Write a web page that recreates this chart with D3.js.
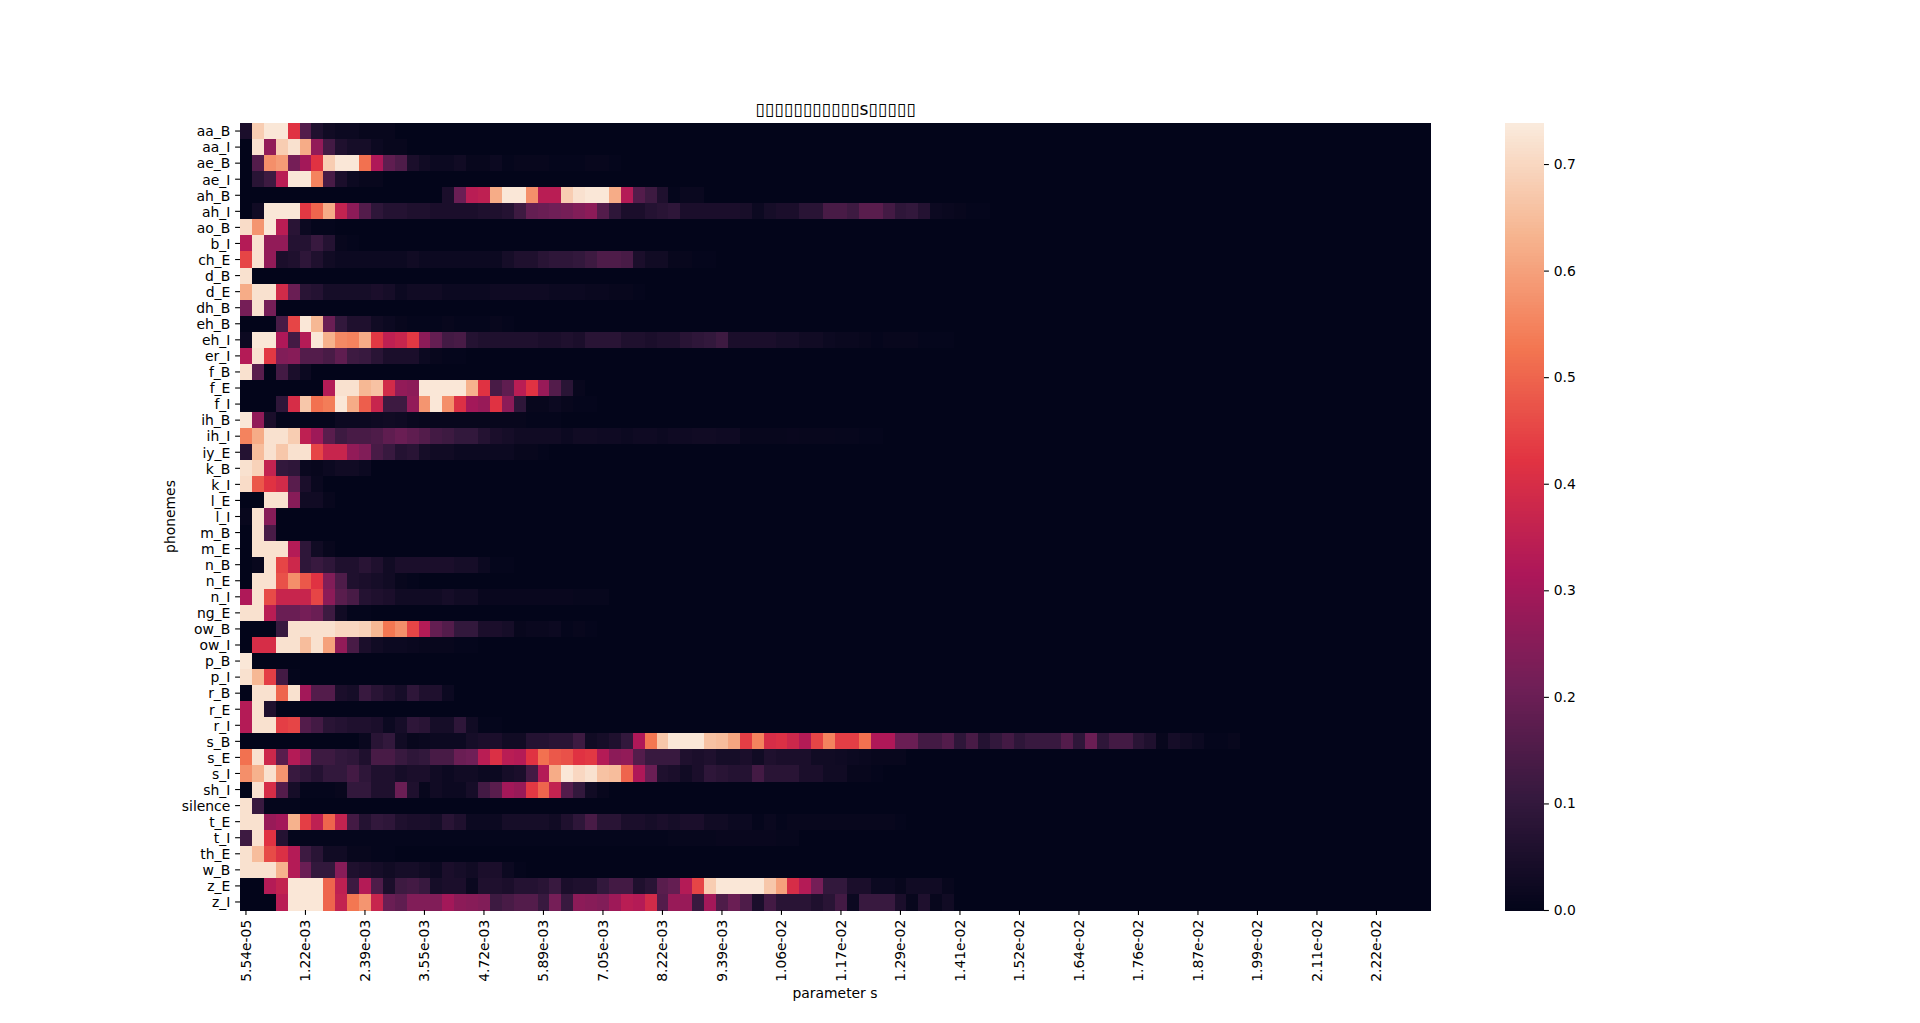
<!DOCTYPE html>
<html><head><meta charset="utf-8">
<script src="https://cdn.jsdelivr.net/npm/d3@7/dist/d3.min.js"></script>
<style>html,body{margin:0;padding:0;background:#fff;overflow:hidden}svg{display:block}text{font-family:"DejaVu Sans",sans-serif;fill:#000}</style>
</head><body><svg id="c" width="1920" height="1023"></svg>
<script>
const titleText = "▯▯▯▯▯▯▯▯▯▯▯s▯▯▯▯▯";
const xTitle = "parameter s";
const yTitle = "phonemes";
const phonemes = ["aa_B","aa_I","ae_B","ae_I","ah_B","ah_I","ao_B","b_I","ch_E","d_B","d_E","dh_B","eh_B","eh_I","er_I","f_B","f_E","f_I","ih_B","ih_I","iy_E","k_B","k_I","l_E","l_I","m_B","m_E","n_B","n_E","n_I","ng_E","ow_B","ow_I","p_B","p_I","r_B","r_E","r_I","s_B","s_E","s_I","sh_I","silence","t_E","t_I","th_E","w_B","z_E","z_I"];
const xTickLabels = ["5.54e-05","1.22e-03","2.39e-03","3.55e-03","4.72e-03","5.89e-03","7.05e-03","8.22e-03","9.39e-03","1.06e-02","1.17e-02","1.29e-02","1.41e-02","1.52e-02","1.64e-02","1.76e-02","1.87e-02","1.99e-02","2.11e-02","2.22e-02"];
const cbTicks = [0,0.1,0.2,0.3,0.4,0.5,0.6,0.7];
const vmax = 0.7385;
const columnCount = 100;
const rocketStops = ["#03051a","#35193e","#701f57","#ad1759","#e13342","#f37651","#f6b48f","#faebdd"];
// each row lists its cells from the left; cells past the end of a row read as 0
const rows = [
/*aa_B*/[.05,.68,.73,.73,.42,.16,.06,.03,.02,.02,.01,.01,.01],
/*aa_I*/[0,.72,.27,.68,.72,.62,.27,.13,.06,.04,.04,.02,.01,.01],
/*ae_B*/[0,.16,.57,.59,.22,.3,.42,.68,.73,.73,.52,.32,.18,.15,.05,.03,.02,.02,.03,.01,.01,.02,.005,.01,.01,.01,.005,.005,.005,.01,.01,.005],
/*ae_I*/[0,.08,.12,.34,.73,.73,.55,.14,.05,.02,.01,.01],
/*ah_B*/[0,0,0,0,0,0,0,0,0,0,0,0,0,0,0,0,0,.05,.2,.34,.35,.62,.73,.73,.57,.34,.34,.68,.72,.73,.73,.62,.33,.16,.12,.06,.005,.015,.015],
/*ah_I*/[0,.03,.73,.73,.73,.43,.5,.62,.36,.26,.16,.09,.07,.07,.06,.06,.05,.05,.05,.05,.06,.06,.07,.12,.19,.2,.21,.22,.24,.26,.16,.09,.05,.05,.07,.08,.09,.05,.05,.05,.05,.05,.045,.02,.04,.05,.05,.08,.08,.14,.14,.12,.17,.17,.13,.09,.1,.07,.02,.015,.01,.005,.005],
/*ao_B*/[.71,.58,.73,.34,.08,.02,.005,.005],
/*b_I*/[.33,.72,.27,.27,.07,.07,.11,.07,.01,.005],
/*ch_E*/[.45,.72,.27,.05,.06,.09,.06,.03,.02,.02,.02,.02,.02,.02,.03,.02,.02,.02,.02,.02,.02,.02,.04,.06,.06,.08,.09,.09,.1,.12,.15,.15,.14,.05,.03,.03,.01,.01,.005,.005],
/*d_B*/[.72],
/*d_E*/[.62,.72,.72,.39,.2,.08,.07,.04,.04,.04,.04,.05,.04,.02,.03,.03,.03,.02,.02,.02,.02,.025,.025,.025,.025,.025,.02,.02,.02,.015,.015,.01,.01,.005],
/*dh_B*/[.22,.72,.22],
/*eh_B*/[0,0,0,.14,.45,.73,.64,.2,.1,.06,.06,.03,.02,.01,.005,.005,.005,.01,.005,.005,.005,.01,.005],
/*eh_I*/[.02,.73,.73,.32,.13,.33,.73,.63,.56,.55,.62,.43,.35,.37,.43,.26,.19,.13,.14,.07,.06,.06,.06,.06,.06,.05,.05,.06,.05,.08,.08,.08,.06,.06,.05,.06,.06,.08,.09,.1,.12,.05,.05,.05,.05,.04,.04,.03,.03,.02,.015,.015,.01,.005,.01,.01,.01,.005,.005,.005],
/*er_I*/[.33,.72,.43,.24,.25,.16,.16,.14,.18,.12,.11,.08,.05,.05,.05,.02,.01,.005,.005],
/*f_B*/[.72,.17,0,.13,.05,.02],
/*f_E*/[0,0,0,0,0,0,0,.33,.72,.72,.64,.66,.39,.27,.26,.73,.73,.73,.73,.63,.42,.14,.18,.34,.42,.28,.16,.08,.01],
/*f_I*/[0,0,0,.09,.4,.67,.52,.54,.73,.62,.49,.37,.12,.12,.27,.58,.73,.57,.41,.3,.28,.42,.26,.09,.01,.01,.02,.01,.005,.005],
/*ih_B*/[.73,.27,.05,.005,.005,.005,.005,.005,.02,.02,.02,.025,.03,.025,.015,.01,.01,.01,.01,.01,.01,.01,.01,.01,.005,.005,.005],
/*ih_I*/[.55,.62,.72,.72,.68,.35,.29,.17,.12,.14,.14,.15,.18,.2,.18,.16,.13,.12,.1,.1,.07,.05,.04,.03,.03,.03,.03,.02,.03,.03,.025,.025,.02,.025,.025,.02,.025,.025,.03,.03,.025,.025,.01,.01,.01,.01,.012,.01,.01,.01,.008,.008,.005,.005],
/*iy_E*/[.07,.65,.72,.67,.72,.72,.45,.37,.37,.27,.24,.14,.11,.07,.08,.04,.03,.03,.02,.02,.02,.02,.02,.01,.01,.005],
/*k_B*/[.72,.69,.36,.1,.09,.015,.01,.02,.03,.03,.02],
/*k_I*/[.71,.48,.42,.39,.17,.05,.015],
/*l_E*/[0,0,.72,.72,.25,.03,.03,.01],
/*l_I*/[.01,.72,.25],
/*m_B*/[0,.72,.14],
/*m_E*/[0,.72,.72,.72,.33,.09,.03,.01],
/*n_B*/[0,.01,.72,.45,.38,.09,.11,.09,.06,.06,.08,.06,.03,.05,.05,.05,.05,.05,.04,.04,.02,.005,.005],
/*n_E*/[0,.72,.72,.47,.57,.48,.42,.24,.15,.06,.05,.04,.03,.01,.005],
/*n_I*/[.32,.72,.46,.37,.37,.37,.45,.26,.17,.14,.07,.06,.05,.03,.03,.03,.03,.04,.03,.03,.012,.012,.012,.012,.012,.012,.012,.012,.008,.008,.008],
/*ng_E*/[.72,.72,.34,.2,.2,.22,.2,.12,.03,.005,.005],
/*ow_B*/[0,0,0,.11,.72,.72,.72,.72,.7,.7,.69,.64,.53,.57,.45,.33,.19,.16,.1,.1,.05,.05,.04,.01,.015,.015,.02,.005,.01,.005],
/*ow_I*/[0,.4,.4,.72,.72,.65,.72,.6,.27,.14,.05,.03,.02,.02,.015,.01,.01,.01,.005,.005],
/*p_B*/[.73],
/*p_I*/[.72,.64,.44,.13,.005],
/*r_B*/[0,.72,.72,.5,.72,.3,.16,.16,.05,.04,.11,.08,.06,.04,.09,.06,.06,.02],
/*r_E*/[.33,.72,.06],
/*r_I*/[.33,.72,.72,.44,.45,.16,.13,.08,.07,.06,.06,.05,.02,.04,.09,.08,.04,.04,.09,.03,.005,.005],
/*s_B*/[0,0,0,0,0,0,0,0,0,0,.015,.08,.1,.03,.01,.015,.02,.02,.02,.04,.05,.05,.03,.03,.07,.07,.08,.08,.12,.03,.04,.06,.1,.32,.53,.67,.73,.73,.73,.66,.65,.61,.44,.55,.4,.41,.38,.33,.45,.55,.44,.44,.52,.32,.32,.2,.2,.13,.13,.16,.09,.14,.07,.1,.13,.09,.11,.11,.11,.16,.09,.2,.09,.13,.13,.08,.06,.01,.04,.03,.02,.005,.005,.01],
/*s_E*/[.52,.72,.38,.17,.33,.27,.12,.12,.1,.09,.06,.14,.14,.11,.09,.1,.14,.14,.2,.21,.34,.41,.34,.33,.42,.52,.48,.47,.42,.43,.33,.26,.27,.16,.11,.11,.11,.06,.05,.06,.04,.04,.05,.03,.06,.05,.05,.05,.03,.03,.025,.02,.015,.01,.01,.01],
/*s_I*/[.57,.63,.72,.58,.11,.09,.07,.1,.1,.13,.09,.06,.06,.04,.05,.05,.03,.02,.03,.03,.02,.02,.04,.05,.13,.33,.62,.73,.7,.72,.66,.65,.5,.32,.2,.06,.05,.03,.05,.09,.08,.07,.07,.13,.08,.08,.08,.05,.05,.03,.03,.01,.01,.005],
/*sh_I*/[0,.72,.4,.16,.04,.005,.005,.005,.01,.1,.1,.06,.06,.2,.06,.01,.03,.02,.02,.04,.13,.17,.3,.28,.43,.5,.36,.16,.1,.03,.01],
/*silence*/[.72,.11,.005,.005,.005],
/*t_E*/[.72,.72,.28,.3,.63,.44,.35,.5,.36,.13,.07,.1,.09,.06,.05,.05,.04,.08,.06,.02,.02,.02,.04,.04,.04,.04,.03,.06,.09,.14,.08,.08,.05,.05,.04,.05,.04,.05,.05,.03,.03,.02,.02,.005,.015,.005,.01,.01,.01,.01,.01,.01,.01,.01,.01,.005],
/*t_I*/[.12,.72,.42,.07,.005,.005,.005,.005,.005,.005,.005,.005,.005,.005,.005,.005,.005,.005,.005,.005,.005,.005,.005,.005,.005,.005,.005,.005,.005,.005,.005,.005,.005,.005,.005,.005,.008,.008,.008,.008,.012,.012,.012,.012,.012,.008,.008],
/*th_E*/[.72,.65,.46,.41,.33,.12,.08,.03,.03,.01,.01,.005,.005],
/*w_B*/[.72,.72,.72,.63,.33,.2,.1,.1,.25,.06,.05,.04,.03,.04,.04,.03,.02,.05,.04,.03,.05,.05,.02,.005],
/*z_E*/[0,0,.33,.36,.73,.73,.73,.5,.35,.12,.33,.15,.05,.12,.13,.11,.04,.05,.05,.015,.06,.06,.05,.07,.07,.08,.11,.05,.06,.06,.1,.13,.13,.06,.08,.17,.19,.33,.45,.68,.73,.73,.73,.73,.67,.6,.4,.33,.22,.1,.1,.05,.05,.02,.02,.01,.03,.03,.03,.01],
/*z_I*/[0,0,0,.34,.73,.73,.73,.5,.36,.53,.58,.37,.2,.18,.24,.24,.24,.3,.26,.25,.24,.12,.14,.16,.16,.11,.22,.11,.26,.25,.24,.29,.34,.33,.39,.16,.28,.28,.11,.3,.15,.2,.15,.05,.13,.08,.08,.08,.06,.08,.13,.02,.11,.11,.11,.05,.01,.06,.01,.03]
];

const svg = d3.select("#c");
const plot = {l:240,r:1430,t:123,b:910};
const bar = {l:1505,r:1544};
const x = d3.scaleBand().domain(d3.range(columnCount)).range([plot.l,plot.r]);
const y = d3.scaleBand().domain(phonemes).range([plot.t,plot.b]);
const colorT = d3.piecewise(d3.interpolateRgb, rocketStops);
const color = v => colorT(Math.min(1,v/vmax));

const cells = rows.flatMap((r,i)=>d3.range(columnCount).map(c=>({p:phonemes[i],c,v:r[c]||0})));
svg.append("g").attr("shape-rendering","crispEdges").selectAll("rect").data(cells).join("rect")
  .attr("x",d=>x(d.c)).attr("y",d=>y(d.p))
  .attr("width",x.bandwidth()+.5).attr("height",y.bandwidth()+.5)
  .attr("fill",d=>color(d.v));

const fs = 13.9;
const xAxis = d3.axisBottom(x).tickValues(d3.range(0,columnCount,5)).tickFormat(d=>xTickLabels[d/5]).tickSize(4.9).tickPadding(4.8);
const gx = svg.append("g").attr("transform",`translate(0,${plot.b})`).call(xAxis);
gx.select(".domain").remove();
gx.selectAll("line").attr("stroke","#000").attr("stroke-width",1.1);
gx.selectAll("text").attr("font-size",fs).attr("text-anchor","end")
  .attr("dy",null).attr("dominant-baseline",null)
  .attr("transform",function(){return `translate(4.6,${0}) rotate(-90 0 ${d3.select(this).attr("y")})`});

const yAxis = d3.axisLeft(y).tickSize(4.9).tickPadding(4.8);
const gy = svg.append("g").attr("transform",`translate(${plot.l},0)`).call(yAxis);
gy.select(".domain").remove();
gy.selectAll("line").attr("stroke","#000").attr("stroke-width",1.1);
gy.selectAll("text").attr("font-size",fs).attr("dy","0.38em");

// colour bar
const cb = d3.scaleLinear().domain([0,vmax]).range([plot.b,plot.t]);
svg.append("g").attr("shape-rendering","crispEdges").selectAll("rect").data(d3.range(256).map(i=>i/256*vmax)).join("rect")
  .attr("x",bar.l).attr("width",bar.r-bar.l)
  .attr("y",d=>cb(d+vmax/256)).attr("height",(plot.b-plot.t)/256+.6)
  .attr("fill",d=>color(d+vmax/512));
const gc = svg.append("g").attr("transform",`translate(${bar.r},0)`).call(d3.axisRight(cb).tickValues(cbTicks).tickFormat(d3.format(".1f")).tickSize(4.9).tickPadding(4.8));
gc.select(".domain").remove();
gc.selectAll("line").attr("stroke","#000").attr("stroke-width",1.1);
gc.selectAll("text").attr("font-size",fs);

svg.append("text").attr("x",835.5).attr("y",114.5).attr("text-anchor","middle").attr("font-size",17.2).text(titleText);
svg.append("text").attr("x",835).attr("y",998).attr("text-anchor","middle").attr("font-size",fs).text(xTitle);
svg.append("text").attr("transform","translate(175,516.5) rotate(-90)").attr("text-anchor","middle").attr("font-size",fs).text(yTitle);
</script></body></html>
